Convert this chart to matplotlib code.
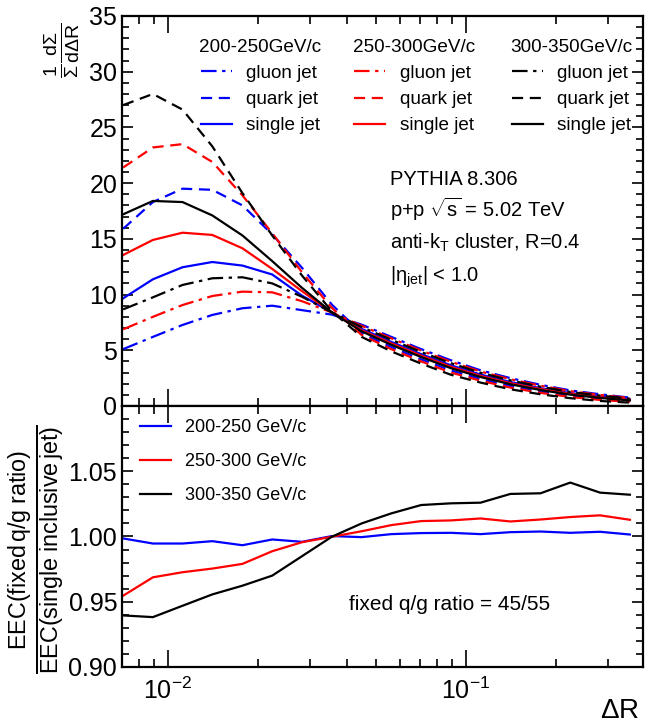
import matplotlib
matplotlib.use("Agg")
import matplotlib.pyplot as plt
from matplotlib.lines import Line2D
from matplotlib.ticker import MultipleLocator, LogLocator, NullFormatter

plt.rcParams['font.family'] = ['Liberation Sans', 'DejaVu Sans']
plt.rcParams['mathtext.fontset'] = 'custom'
plt.rcParams['mathtext.rm'] = 'Liberation Sans'
plt.rcParams['mathtext.it'] = 'Liberation Sans:italic'
plt.rcParams['mathtext.sf'] = 'Liberation Sans'

# bin centres in Delta R
dR = [0.00708, 0.00891, 0.0112, 0.0141, 0.0178, 0.0224, 0.0282, 0.0355, 0.0447,
      0.0562, 0.0708, 0.0891, 0.112, 0.141, 0.178, 0.224, 0.282, 0.355]

# EEC distributions
gluon_200 = [5.1, 6.2, 7.27, 8.17, 8.77, 9.0, 8.6, 8.2, 7.3, 6.2, 5.1, 4.1, 3.2, 2.5, 1.9, 1.4, 1.05, 0.75]
gluon_250 = [6.88, 8.0, 9.06, 9.87, 10.26, 10.2, 9.4, 8.4, 7.19, 6.07, 4.97, 3.97, 3.09, 2.4, 1.82, 1.33, 0.99, 0.71]
gluon_300 = [8.67, 9.75, 10.86, 11.46, 11.55, 11.0, 9.8, 8.4, 7.08, 5.94, 4.84, 3.84, 2.98, 2.3, 1.73, 1.26, 0.93, 0.66]
single_200 = [9.66, 11.37, 12.45, 12.92, 12.6, 11.8, 9.9, 8.4, 6.92, 5.75, 4.65, 3.65, 2.82, 2.15, 1.6, 1.16, 0.84, 0.59]
single_250 = [13.55, 14.9, 15.55, 15.35, 14.15, 12.3, 10.3, 8.4, 6.8, 5.62, 4.52, 3.52, 2.7, 2.05, 1.52, 1.09, 0.78, 0.55]
single_300 = [17.2, 18.4, 18.3, 17.1, 15.3, 13.0, 10.6, 8.4, 6.7, 5.49, 4.39, 3.39, 2.6, 1.95, 1.43, 1.02, 0.72, 0.5]
quark_200 = [15.9, 18.3, 19.5, 19.4, 18.0, 15.4, 12.4, 9.1, 6.53, 5.29, 4.19, 3.19, 2.43, 1.8, 1.3, 0.91, 0.63, 0.44]
quark_250 = [21.4, 23.2, 23.5, 21.9, 18.9, 15.5, 12.0, 8.8, 6.37, 5.1, 4.0, 3.0, 2.27, 1.65, 1.18, 0.81, 0.54, 0.37]
quark_300 = [27.0, 28.0, 26.6, 23.3, 19.1, 15.3, 11.7, 8.5, 6.2, 4.9, 3.8, 2.8, 2.1, 1.5, 1.05, 0.7, 0.45, 0.3]

# ratio fixed q/g / single inclusive
ratio_200 = [0.9985, 0.9946, 0.9946, 0.9964, 0.9933, 0.9977, 0.9959, 1.0003, 0.9995,
             1.0018, 1.0026, 1.0028, 1.0018, 1.0033, 1.0038, 1.0028, 1.0036, 1.0015]
ratio_250 = [0.9546, 0.9687, 0.9726, 0.9754, 0.979, 0.9887, 0.9956, 0.9998, 1.004,
             1.0087, 1.0118, 1.0123, 1.0138, 1.0115, 1.013, 1.0149, 1.0162, 1.0128]
ratio_300 = [0.9395, 0.9382, 0.9469, 0.9556, 0.9623, 0.970, 0.9849, 0.9998, 1.010,
             1.0177, 1.0241, 1.0254, 1.0259, 1.0326, 1.0331, 1.0413, 1.0336, 1.032]

pt_bins = ["200-250GeV/c", "250-300GeV/c", "300-350GeV/c"]
ratio_labels = ["200-250 GeV/c", "250-300 GeV/c", "300-350 GeV/c"]
colors = ["#0000ff", "#ff0000", "#000000"]
gluon = [gluon_200, gluon_250, gluon_300]
quark = [quark_200, quark_250, quark_300]
single = [single_200, single_250, single_300]
ratios = [ratio_200, ratio_250, ratio_300]

dashdot = (0, (7, 2.5, 1.5, 2.5))
dashed = (0, (5, 3))
lw = 1.6

fig = plt.figure(figsize=(6.46, 7.26), dpi=100)
ax1 = fig.add_axes([0.1889, 0.4408, 0.8065, 0.5372])
ax2 = fig.add_axes([0.1889, 0.0813, 0.8065, 0.3595], sharex=ax1)

for i in range(3):
    ax1.plot(dR, gluon[i], color=colors[i], ls=dashdot, lw=lw)
    ax1.plot(dR, quark[i], color=colors[i], ls=dashed, lw=lw)
    ax1.plot(dR, single[i], color=colors[i], ls='-', lw=lw)
    ax2.plot(dR, ratios[i], color=colors[i], lw=lw)

ax1.set_xscale('log')
ax1.set_xlim(0.00702, 0.393)
ax1.set_ylim(0, 35)
ax2.set_ylim(0.90, 1.10)

for ax in (ax1, ax2):
    for s in ax.spines.values():
        s.set_linewidth(1.6)
    ax.tick_params(which='both', direction='in', top=True, right=True, width=1.2)
    ax.tick_params(which='major', length=12, labelsize=18)
    ax.tick_params(which='minor', length=6)
    ax.xaxis.set_major_locator(LogLocator(base=10))
    ax.xaxis.set_minor_locator(LogLocator(base=10, subs=range(2, 10)))
    ax.xaxis.set_minor_formatter(NullFormatter())

ax1.tick_params(axis='x', labelbottom=False)
ax1.yaxis.set_major_locator(MultipleLocator(5))
ax1.yaxis.set_minor_locator(MultipleLocator(1))
ax1.tick_params(axis='y', which='major', length=8)
ax1.tick_params(axis='y', which='minor', length=5)
ax2.yaxis.set_major_locator(MultipleLocator(0.05))
ax2.yaxis.set_minor_locator(MultipleLocator(0.01))
ax2.tick_params(axis='y', which='major', length=8)
ax2.tick_params(axis='y', which='minor', length=5)
ax2.set_yticks([0.90, 0.95, 1.00, 1.05])
ax2.set_yticklabels(["0.90", "0.95", "1.00", "1.05"])
ax2.tick_params(axis='x', pad=8)

# three legend columns
anchors = [0.148, 0.443, 0.745]
for i in range(3):
    handles = [Line2D([], [], color=colors[i], ls=dashdot, lw=lw),
               Line2D([], [], color=colors[i], ls=dashed, lw=lw),
               Line2D([], [], color=colors[i], ls='-', lw=lw)]
    leg = ax1.legend(handles, ["gluon jet", "quark jet", "single jet"],
                     title=pt_bins[i], loc='upper left',
                     bbox_to_anchor=(anchors[i], 0.942), frameon=False,
                     fontsize=13.6, title_fontsize=13.6, borderpad=0, borderaxespad=0,
                     handlelength=1.65, handletextpad=0.75, labelspacing=0.48)
    if i < 2:
        ax1.add_artist(leg)

ax1.text(0.515, 0.567, "PYTHIA 8.306", transform=ax1.transAxes, fontsize=14.5)
ax1.text(0.515, 0.485, r"p+p $\sqrt{\mathrm{s}}$ = 5.02 TeV", transform=ax1.transAxes, fontsize=14.5)
ax1.text(0.515, 0.403, r"anti-k$_\mathrm{T}$ cluster, R=0.4", transform=ax1.transAxes, fontsize=14.5)
ax1.text(0.515, 0.319, r"|η$_\mathrm{jet}$| < 1.0", transform=ax1.transAxes, fontsize=14.5)

rh = [Line2D([], [], color=c, lw=lw) for c in colors]
ax2.legend(rh, ratio_labels, loc='upper left', bbox_to_anchor=(0.035, 0.95),
           frameon=False, fontsize=13, borderpad=0, borderaxespad=0,
           handlelength=1.7, handletextpad=0.8, labelspacing=0.95)
ax2.text(0.435, 0.22, "fixed q/g ratio = 45/55", transform=ax2.transAxes, fontsize=15)

fig.text(0.096, 0.931, r"$\frac{1}{\Sigma}\frac{\mathrm{d}\Sigma}{\mathrm{d}\Delta \mathrm{R}}$",
         rotation=90, fontsize=20, ha='center', va='center')
fig.text(0.057, 0.243,
         r"$\frac{\mathrm{EEC(fixed\,q/g\;ratio)}}{\mathrm{EEC(single\;inclusive\,jet)}}$",
         rotation=90, fontsize=24, ha='center', va='center')
fig.text(0.99, 0.003, r"$\Delta$R", fontsize=20, ha='right', va='bottom')

fig.savefig("out.png", dpi=100)
